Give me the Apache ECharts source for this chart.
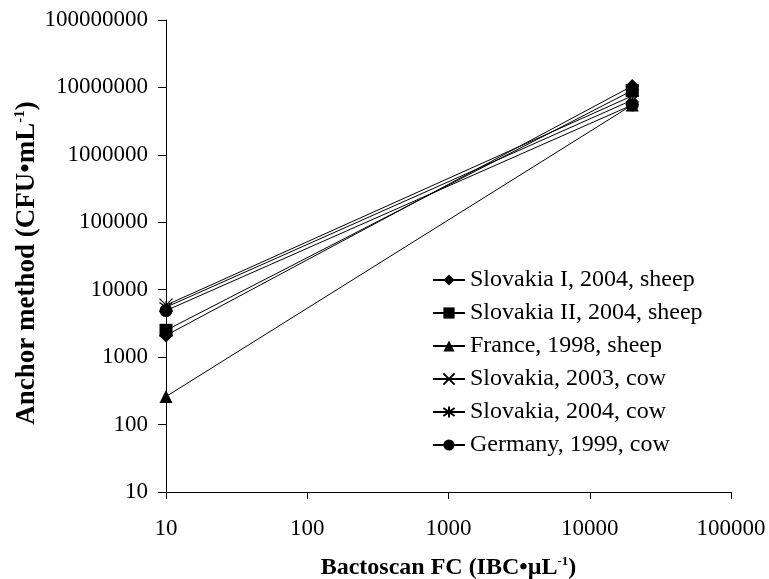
<!DOCTYPE html>
<html>
<head>
<meta charset="utf-8">
<script src="https://cdn.jsdelivr.net/npm/echarts@6/dist/echarts.min.js"></script>
<style>html,body{margin:0;padding:0;background:#fff}#c{width:769px;height:579px}</style>
</head>
<body>
<div id="c"></div>
<script>
const xValues = [10, 20000];
const seriesNames = ['Slovakia I, 2004, sheep','Slovakia II, 2004, sheep','France, 1998, sheep','Slovakia, 2003, cow','Slovakia, 2004, cow','Germany, 1999, cow'];
const slovakiaI2004Sheep = [2100, 10500000];
const slovakiaII2004Sheep = [2500, 9000000];
const france1998Sheep = [260, 5500000];
const slovakia2003Cow = [5900, 7500000];
const slovakia2004Cow = [5500, 6500000];
const germany1999Cow = [4900, 5500000];
const yTicks = [10,100,1000,10000,100000,1000000,10000000,100000000];
const xTicks = [10,100,1000,10000,100000];

const allValues = [slovakiaI2004Sheep, slovakiaII2004Sheep, france1998Sheep, slovakia2003Cow, slovakia2004Cow, germany1999Cow];
const symbols = ['diamond','rect','triangle','path://M0,0L10,10M10,0L0,10','path://M0,0L10,10M10,0L0,10M5,-2L5,12','circle'];
const sizes = [14,13,13,13,13,13];
const font = '"Liberation Serif", "Times New Roman", serif';

const series = allValues.map((vals, i) => {
  const stroke = i === 3 || i === 4;
  return {
    name: seriesNames[i],
    type: 'line',
    data: xValues.map((x, k) => [x, vals[k]]),
    symbol: symbols[i],
    symbolSize: sizes[i],
    showSymbol: true,
    lineStyle: { color: '#000', width: 1 },
    itemStyle: stroke ? { color: 'rgba(0,0,0,0)', borderColor: '#000', borderWidth: 1.2 } : { color: '#000', borderWidth: 0 },
    emphasis: { disabled: true },
    animation: false
  };
});

const richSupX = { s: { fontFamily: font, fontSize: 13, fontWeight: 'bold', verticalAlign: 'top', padding: [0,0,12,0] } };
const richSupY = { s: { fontFamily: font, fontSize: 15, fontWeight: 'bold', verticalAlign: 'top', padding: [0,0,13,0] } };

const chart = echarts.init(document.getElementById('c'));
chart.setOption({
  animation: false,
  backgroundColor: '#fff',
  grid: { left: 166, right: 38, top: 20, bottom: 87, containLabel: false, outerBoundsMode: 'none' },
  xAxis: {
    type: 'log', logBase: 10, min: 10, max: 100000,
    axisLine: { lineStyle: { color: '#000', width: 1 } },
    axisTick: { show: true, length: 7, lineStyle: { color: '#000' } },
    splitLine: { show: false },
    minorTick: { show: false },
    axisLabel: { color: '#000', fontFamily: font, fontSize: 23, margin: 25,
      formatter: v => String(Math.round(v)) },
    name: 'Bactoscan FC (IBC•µL{s|-1})',
    nameLocation: 'middle', nameGap: 63, nameMoveOverlap: false,
    nameTextStyle: { color: '#000', fontFamily: font, fontSize: 24, fontWeight: 'bold', rich: richSupX }
  },
  yAxis: {
    type: 'log', logBase: 10, min: 10, max: 100000000,
    axisLine: { show: true, lineStyle: { color: '#000', width: 1 } },
    axisTick: { show: true, length: 8, lineStyle: { color: '#000' } },
    splitLine: { show: false },
    minorTick: { show: false },
    axisLabel: { color: '#000', fontFamily: font, fontSize: 23, margin: 18,
      formatter: v => String(Math.round(v)) },
    name: 'Anchor method (CFU•mL{s|-1})',
    nameLocation: 'middle', nameGap: 125, nameRotate: 90, nameMoveOverlap: false,
    nameTextStyle: { color: '#000', fontFamily: font, fontSize: 27, fontWeight: 'bold', rich: richSupY, padding: [0, 14, 0, 0] }
  },
  legend: {
    orient: 'vertical', left: 432, top: 268, padding: 0, itemGap: 9, itemWidth: 32, itemHeight: 14,
    textStyle: { color: '#000', fontFamily: font, fontSize: 24 },
    data: seriesNames
  },
  series: series
});
</script>
</body>
</html>
